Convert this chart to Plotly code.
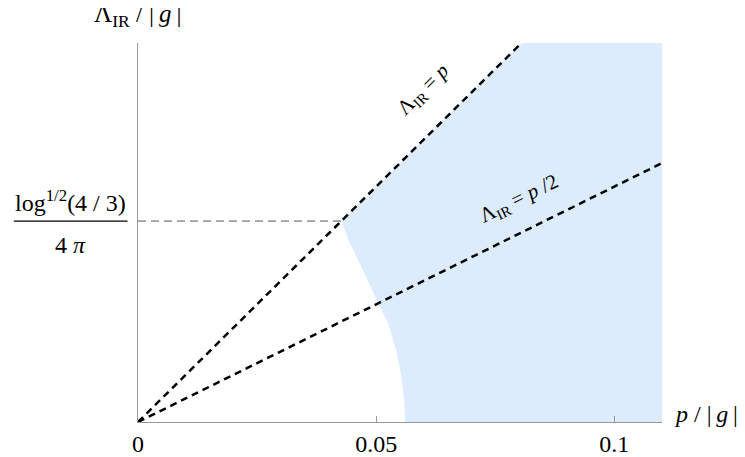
import numpy as np
import plotly.graph_objects as go

# axis ranges (p/|g| and Lambda_IR/|g|)
x_max = 0.11
y_max = 0.0805

# log^{1/2}(4/3) / (4 pi)
y_mark = 0.04268

# boundary of the shaded region (top corner -> x axis)
curve_x = [0.04268, 0.0445, 0.0472, 0.0504, 0.0525, 0.0542, 0.0553, 0.0558, 0.0561]
curve_y = [0.04268, 0.0379, 0.0323, 0.0252, 0.0210, 0.0153, 0.0096, 0.0054, 0.0]

# the two reference lines
line_p_x = [0.0, y_max]
line_p_y = [0.0, y_max]
line_half_x = [0.0, x_max]
line_half_y = [0.0, x_max / 2]

x_ticks = [0, 0.05, 0.1]
x_tick_text = ["0", "0.05", "0.1"]

serif = "Liberation Serif"
shade = "#DCECFD"

# shaded polygon: curve reversed (bottom -> corner), up along Lambda = p, across, down
poly_x = curve_x[::-1] + [y_max, x_max, x_max]
poly_y = curve_y[::-1] + [y_max, y_max, 0.0]

fig = go.Figure()
fig.add_trace(go.Scatter(x=poly_x, y=poly_y, mode="lines", fill="toself",
                         fillcolor=shade, line=dict(width=0), hoverinfo="skip"))
fig.add_trace(go.Scatter(x=[0, y_mark], y=[y_mark, y_mark], mode="lines",
                         line=dict(color="#555555", width=1, dash="8px,5px")))
fig.add_trace(go.Scatter(x=line_p_x, y=line_p_y, mode="lines",
                         line=dict(color="black", width=2.5, dash="7px,5px")))
fig.add_trace(go.Scatter(x=line_half_x, y=line_half_y, mode="lines",
                         line=dict(color="black", width=2.5, dash="7px,5px")))

ym = y_mark / y_max
black = "black"
thin = "\u2009"
ann = [
    # fraction label for the y mark
    dict(x=-0.128, y=ym, xref="paper", yref="paper", text="log<sup>1/2</sup>(4 / 3)",
         xanchor="center", yanchor="middle",
         showarrow=False, yshift=20, font=dict(size=24, family=serif, color=black)),
    dict(x=-0.128, y=ym, xref="paper", yref="paper", text="4 <i>π</i>",
         xanchor="center", yanchor="middle",
         showarrow=False, yshift=-24, font=dict(size=24, family=serif, color=black)),
    # axis titles
    dict(x=0, y=1.072, xref="paper", yref="paper",
         text="Λ<sub>IR</sub> / |" + thin + "<i>g</i>" + thin + "|",
         xanchor="center", yanchor="middle",
         showarrow=False, font=dict(size=25, family=serif, color=black)),
    dict(x=1.02, y=0.02, xref="paper", yref="paper",
         text="<i>p</i> / |" + thin + "<i>g</i>" + thin + "|",
         xanchor="left", yanchor="middle",
         showarrow=False, font=dict(size=24, family=serif, color=black)),
    # line labels
    dict(x=0.0599, y=0.0705, xref="x", yref="y", text="Λ<sub>IR</sub> = <i>p</i>",
         showarrow=False, textangle=-44.6, font=dict(size=21, family=serif, color=black)),
    dict(x=0.080, y=0.0473, xref="x", yref="y", text="Λ<sub>IR</sub> = <i>p</i> /2",
         showarrow=False, textangle=-26, font=dict(size=21, family=serif, color=black)),
]

# the page body adds an 8px offset, so margins are trimmed by that much
fig.update_layout(
    width=745, height=457,
    margin=dict(l=129.5, r=90.7, t=35, b=43, autoexpand=False),
    plot_bgcolor="white", paper_bgcolor="white",
    showlegend=False,
    annotations=ann,
    shapes=[dict(type="line", xref="paper", yref="paper",
                 x0=-0.237, x1=-0.02, y0=ym, y1=ym,
                 line=dict(color=black, width=1.2))],
)
fig.update_xaxes(range=[0, x_max], showgrid=False, zeroline=False, showline=True,
                 linecolor="#999999", linewidth=1, tickvals=x_ticks, ticktext=x_tick_text,
                 ticks="inside", ticklen=6, tickcolor="#999999",
                 tickfont=dict(size=24, family=serif, color=black))
fig.update_yaxes(range=[0, y_max], showgrid=False, zeroline=False, showline=True,
                 linecolor="#999999", linewidth=1, showticklabels=False, ticks="")

fig.write_html("out.html")
